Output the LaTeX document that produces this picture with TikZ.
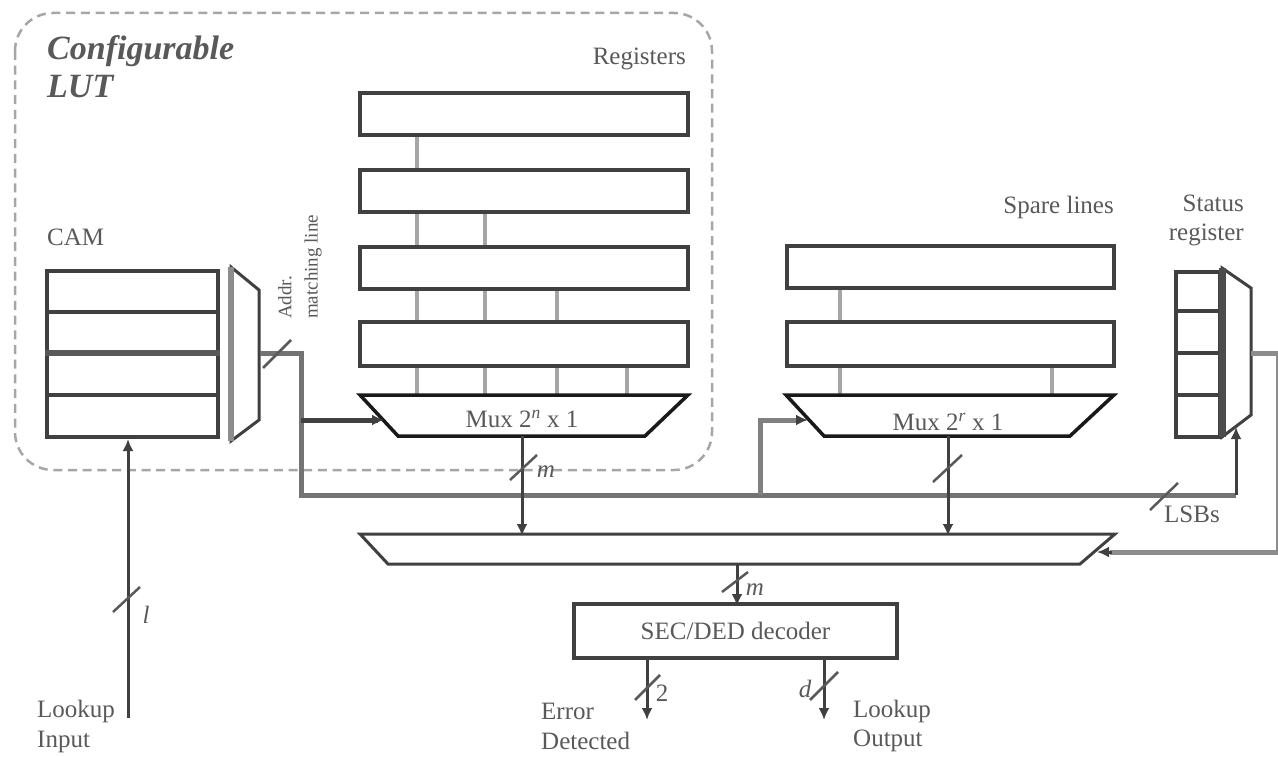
\documentclass[tikz,border=0pt]{standalone}
\usepackage{fontspec}
\setmainfont{Liberation Serif}
\newcommand{\txs}{\fontsize{25}{29}\selectfont}
\usetikzlibrary{arrows.meta}
\tikzset{
  lin/.style={draw=black!75, line width=4pt},
  thin line/.style={draw=black!75, line width=3pt},
  box/.style={draw=black!75, line width=4pt, fill=white, inner sep=0pt, minimum height=#1},
  link/.style={draw=black!35, line width=4pt},
  tick/.style={draw=black!65, line width=2.5pt},
  dashbox/.style={draw=black!35, line width=2.5pt, dash pattern=on 9pt off 5.7pt},
  tip/.style={-{Latex[length=12pt,width=11pt]}},
  lab/.style={inner sep=0pt, font=\txs, text=black!65},
}
\begin{document}
\begin{tikzpicture}[x=1pt,y=-1pt]
\useasboundingbox (0,0) rectangle (1278,757);
\draw[dashbox, rounded corners=38pt] (15,13) rectangle (712,470);
\foreach \n/\x in {a/417,b/485,c/557,d/627,e/840,f/1052}{\coordinate (\n) at (\x,0);}
% registers
\node[box=42pt, minimum width=328pt] (r1) at (524,114) {};
\node[box=42pt, minimum width=328pt] (r2) at (524,191) {};
\node[box=42pt, minimum width=328pt] (r3) at (524,268) {};
\node[box=44pt, minimum width=328pt] (r4) at (524,344) {};
\node[box=42pt, minimum width=327pt] (s1) at (950,267) {};
\node[box=44pt, minimum width=327pt] (s2) at (950,344) {};
% muxes
\coordinate (m1a) at (360,395); \coordinate (m1b) at (688,395); \coordinate (m1c) at (645,436); \coordinate (m1d) at (398,436);
\coordinate (m2a) at (786,395); \coordinate (m2b) at (1114,395); \coordinate (m2c) at (1070,436); \coordinate (m2d) at (824,436);
\coordinate (m3a) at (360,534); \coordinate (m3b) at (1115,534); \coordinate (m3c) at (1080,564); \coordinate (m3d) at (388,564);
\coordinate (cma) at (231,267); \coordinate (cmb) at (259,290); \coordinate (cmc) at (259,420); \coordinate (cmd) at (231,441);
\coordinate (sma) at (1222,268); \coordinate (smb) at (1251,288); \coordinate (smc) at (1251,415); \coordinate (smd) at (1222,437);
% register links
\foreach \p/\q/\n in {r1/r2/a,r2/r3/a,r3/r4/a,r2/r3/b,r3/r4/b,r3/r4/c,s1/s2/e}{
  \draw[link] (\p.south -| \n) -- (\q.north -| \n);}
\foreach \p/\q/\n in {r4/m1a/a,r4/m1a/b,r4/m1a/c,r4/m1a/d,s2/m2a/e,s2/m2a/f}{
  \draw[link] (\p.south -| \n) -- (\q -| \n);}
\draw[lin,black!90,line width=3.5pt] (m1a) -- (m1b) -- (m1c) -- (m1d) -- cycle;
\draw[lin,black!90,line width=3.5pt] (m2a) -- (m2b) -- (m2c) -- (m2d) -- cycle;
\draw[lin,line width=3pt] (m3a) -- (m3b) -- (m3c) -- (m3d) -- cycle;
\draw[lin,line width=3pt] (cma) -- (cmb) -- (cmc) -- (cmd) -- cycle;
\draw[draw=black!45,line width=6pt] (cma) -- (cmd);
\draw[lin,line width=3pt] (sma) -- (smb) -- (smc) -- (smd) -- cycle;
% CAM
\node[box=166pt, minimum width=171pt] (cam) at (132.5,354) {};
\draw[lin] (cam.west |- 0,312) -- (cam.east |- 0,312);
\draw[lin,line width=6pt,black!65] (cam.west |- 0,353) -- (cam.east |- 0,353);
\draw[lin] (cam.west |- 0,395) -- (cam.east |- 0,395);
\node[box=165pt, minimum width=44pt] (st) at (1198,354) {};
\foreach \y in {311,353,395}{\draw[lin] (st.west |- 0,\y) -- (st.east |- 0,\y);}
\draw[line width=7pt,draw=black!70] (sma) -- (smd);
% decoder
\node[box=54pt, minimum width=323pt, font=\txs, text=black!65] (dec) at (735.5,631) {SEC/DED decoder};
% bus
\coordinate (out) at (260,353); \coordinate (c1) at (301,353); \coordinate (c2) at (301,495); \coordinate (c3) at (1236,495);
\coordinate (c4) at (1236,427); \coordinate (j1) at (301,420); \coordinate (a1) at (384,420);
\coordinate (j2) at (760,495); \coordinate (c5) at (760,420); \coordinate (a2) at (808,420);
\draw[lin,black!55,line width=5pt] (out) -- (c1) -- (c2) -- (c3);
\draw[thin line,tip] (c3) -- (c4);
\draw[lin,line width=5pt] (j1) -- (378,420);
\draw[thin line,tip] (375,420) -- (a1);
\draw[lin,black!50,line width=5pt] (j2) -- (c5) -- (800,420);
\draw[thin line,tip] (796,420) -- (a2);
\coordinate (o1) at (1251,353); \coordinate (o2) at (1278,353); \coordinate (o3) at (1278,552); \coordinate (o4) at (1097,552);
\draw[lin,black!45,line width=5pt] (o1) -- (o2) -- (o3) -- (1110,552);
\draw[thin line,tip] (1112,552) -- (o4);
% vertical
\coordinate (v1) at (522,436); \coordinate (v2) at (522,536);
\coordinate (v3) at (948,436); \coordinate (v4) at (948,536);
\coordinate (v5) at (737,564); \coordinate (v6) at (737,606);
\coordinate (v7) at (647,658); \coordinate (v8) at (647,720);
\coordinate (v9) at (824,658); \coordinate (v10) at (824,720);
\draw[thin line,tip] (v1) -- (v2);
\draw[thin line,tip] (v3) -- (v4);
\draw[thin line,tip] (v5) -- (v6);
\draw[thin line,tip] (v7) -- (v8);
\draw[thin line,tip] (v9) -- (v10);
\coordinate (li) at (128,718);
\draw[thin line,tip] (li) -- (cam.south -| li);
% ticks
\draw[tick] (263,368) -- (291,340);
\draw[tick] (510,480) -- (537,455);
\draw[tick] (933,482) -- (962,455);
\draw[tick] (1150,510) -- (1178,483);
\draw[tick] (722,592) -- (748,572);
\draw[tick] (635,700) -- (660,675);
\draw[tick] (810,700) -- (838,672);
\draw[tick] (113,612) -- (140,587);
% labels
\node[lab, anchor=west, align=left, font=\bfseries\itshape\fontsize{34}{38}\selectfont] (t0) at (47,67) {Configurable\\LUT};
\node[lab, anchor=east] (t1) at (686,59) {Registers};
\node[lab, anchor=west] (t2) at (47,237) {CAM};
\node[lab, anchor=east] (t3) at (1114,207) {Spare lines};
\node[lab, align=right, anchor=east] (t4) at (1244,220) {Status\\register};
\node[lab, rotate=90, anchor=west, font=\fontsize{19}{20}\selectfont] (t5a) at (285,319) {Addr.};
\node[lab, rotate=90, anchor=west, font=\fontsize{19}{20}\selectfont] (t5b) at (313,319) {matching line};
\node[lab] (t6) at (522,419) {Mux 2\textsuperscript{\itshape n} x 1};
\node[lab] (t7) at (948,422) {Mux 2\textsuperscript{\itshape r} x 1};
\node[lab, font=\itshape\txs] (t8) at (546,472) {m};
\node[lab, font=\itshape\txs] (t9) at (755,590) {m};
\node[lab, anchor=west] (t10) at (1164,514) {LSBs};
\node[lab, font=\itshape\txs] (t11) at (146,615) {l};
\node[lab] (t12) at (662,693) {2};
\node[lab, font=\itshape\txs] (t13) at (805,689) {d};
\node[lab, anchor=west] (t14) at (37,711) {Lookup};
\node[lab, anchor=west] (t15) at (37,742) {Input};
\node[lab, anchor=west] (t16) at (541,711) {Error};
\node[lab, anchor=west] (t17) at (541,741) {Detected};
\node[lab, anchor=west] (t18) at (853,711) {Lookup};
\node[lab, anchor=west] (t19) at (853,741) {Output};
\end{tikzpicture}
\end{document}
